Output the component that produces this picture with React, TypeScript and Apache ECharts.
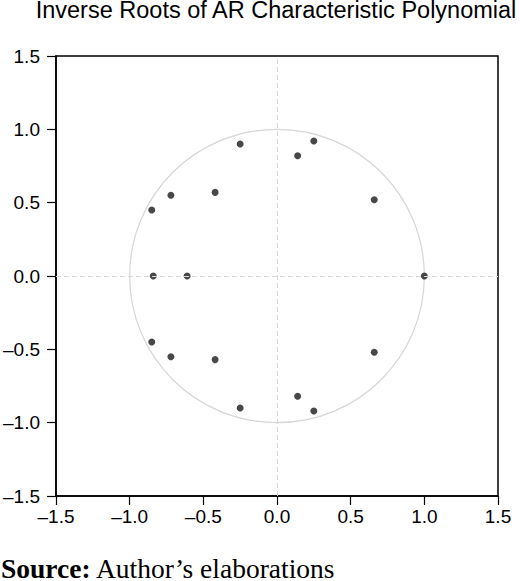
import React, { useEffect, useRef } from "react";
import * as echarts from "echarts";

const titleText = "Inverse Roots of AR Characteristic Polynomial";
const sourceLabel = "Source:";
const sourceText = "Author\u2019s elaborations";

// Inverse roots (real, imaginary)
const rootsRe = [-0.25, -0.25, 0.25, 0.25, 0.14, 0.14, 0.66, 0.66, -0.42, -0.42, -0.72, -0.72, -0.85, -0.85, -0.84, -0.61, 1.0];
const rootsIm = [0.9, -0.9, 0.92, -0.92, 0.82, -0.82, 0.52, -0.52, 0.57, -0.57, 0.55, -0.55, 0.45, -0.45, 0.0, 0.0, 0.0];

const axisMin = -1.5;
const axisMax = 1.5;
const axisStep = 0.5;
const unitRadius = 1;

const fmt = (v: number) => {
  const s = Math.abs(v).toFixed(1);
  return v < -1e-9 ? "\u2013" + s : s;
};

export default function App() {
  const ref = useRef<HTMLDivElement>(null);
  useEffect(() => {
    if (!ref.current) return;
    const chart = echarts.init(ref.current, undefined, { renderer: "svg" });
    const sansFont = "'Liberation Sans', Arial, sans-serif";
    const serifFont = "'Liberation Serif', 'Times New Roman', serif";
    const axisCommon = {
      type: "value" as const,
      min: axisMin,
      max: axisMax,
      interval: axisStep,
      splitLine: { show: false },
      axisLine: { show: true, onZero: false, lineStyle: { color: "#000", width: 1.5 } },
      axisTick: { show: true, length: 9, lineStyle: { color: "#000", width: 1.2 } },
      axisLabel: { color: "#000", fontSize: 19, fontFamily: sansFont, formatter: fmt },
    };
    chart.setOption({
      animation: false,
      backgroundColor: "#fff",
      grid: {
        left: 54,
        top: 56,
        width: 444,
        height: 440,
        show: true,
        borderColor: "#000",
        borderWidth: 1.5,
        containLabel: false,
      },
      xAxis: { ...axisCommon, axisLabel: { ...axisCommon.axisLabel, margin: 11 } },
      yAxis: {
        ...axisCommon,
        axisLabel: { ...axisCommon.axisLabel, margin: 16, padding: [0, 0, 5, 0] },
      },
      graphic: [
        {
          type: "text",
          x: 276,
          y: 9.5,
          style: {
            text: titleText,
            fontFamily: sansFont,
            fontSize: 23.5,
            lineHeight: 18,
            fill: "#000",
            align: "center",
            verticalAlign: "middle",
          },
        },
        {
          type: "text",
          x: 1,
          y: 568,
          style: {
            text: `{b|${sourceLabel}} ${sourceText}`,
            fontFamily: serifFont,
            fontSize: 27.5,
            lineHeight: 22,
            fill: "#000",
            align: "left",
            verticalAlign: "middle",
            rich: {
              b: {
                fontFamily: serifFont,
                fontSize: 27.5,
                lineHeight: 22,
                fontWeight: "bold",
                fill: "#000",
              },
            },
          },
        },
      ],
      series: [
        {
          type: "custom",
          silent: true,
          z: 1,
          data: [[0, 0, unitRadius]],
          renderItem: (params: any, api: any) => {
            const c = api.coord([api.value(0), api.value(1)]);
            const sz = api.size([api.value(2), api.value(2)]);
            return {
              type: "ellipse",
              shape: { cx: c[0], cy: c[1], rx: sz[0], ry: sz[1] },
              style: { fill: "none", stroke: "#d6d6d6", lineWidth: 1.2 },
            };
          },
        },
        {
          type: "scatter",
          z: 3,
          symbolSize: 7,
          itemStyle: { color: "#1a1a1a" },
          data: rootsRe.map((r, i) => [r, rootsIm[i]]),
          markLine: {
            silent: true,
            symbol: ["none", "none"],
            label: { show: false },
            lineStyle: { color: "#d8d8d8", type: [5, 3], width: 1 },
            data: [{ xAxis: 0 }, { yAxis: 0 }],
          },
        },
      ],
    });
    return () => chart.dispose();
  }, []);
  return (
    <div
      ref={ref}
      style={{ position: "absolute", left: 0, top: 0, width: 520, height: 581 }}
    />
  );
}
